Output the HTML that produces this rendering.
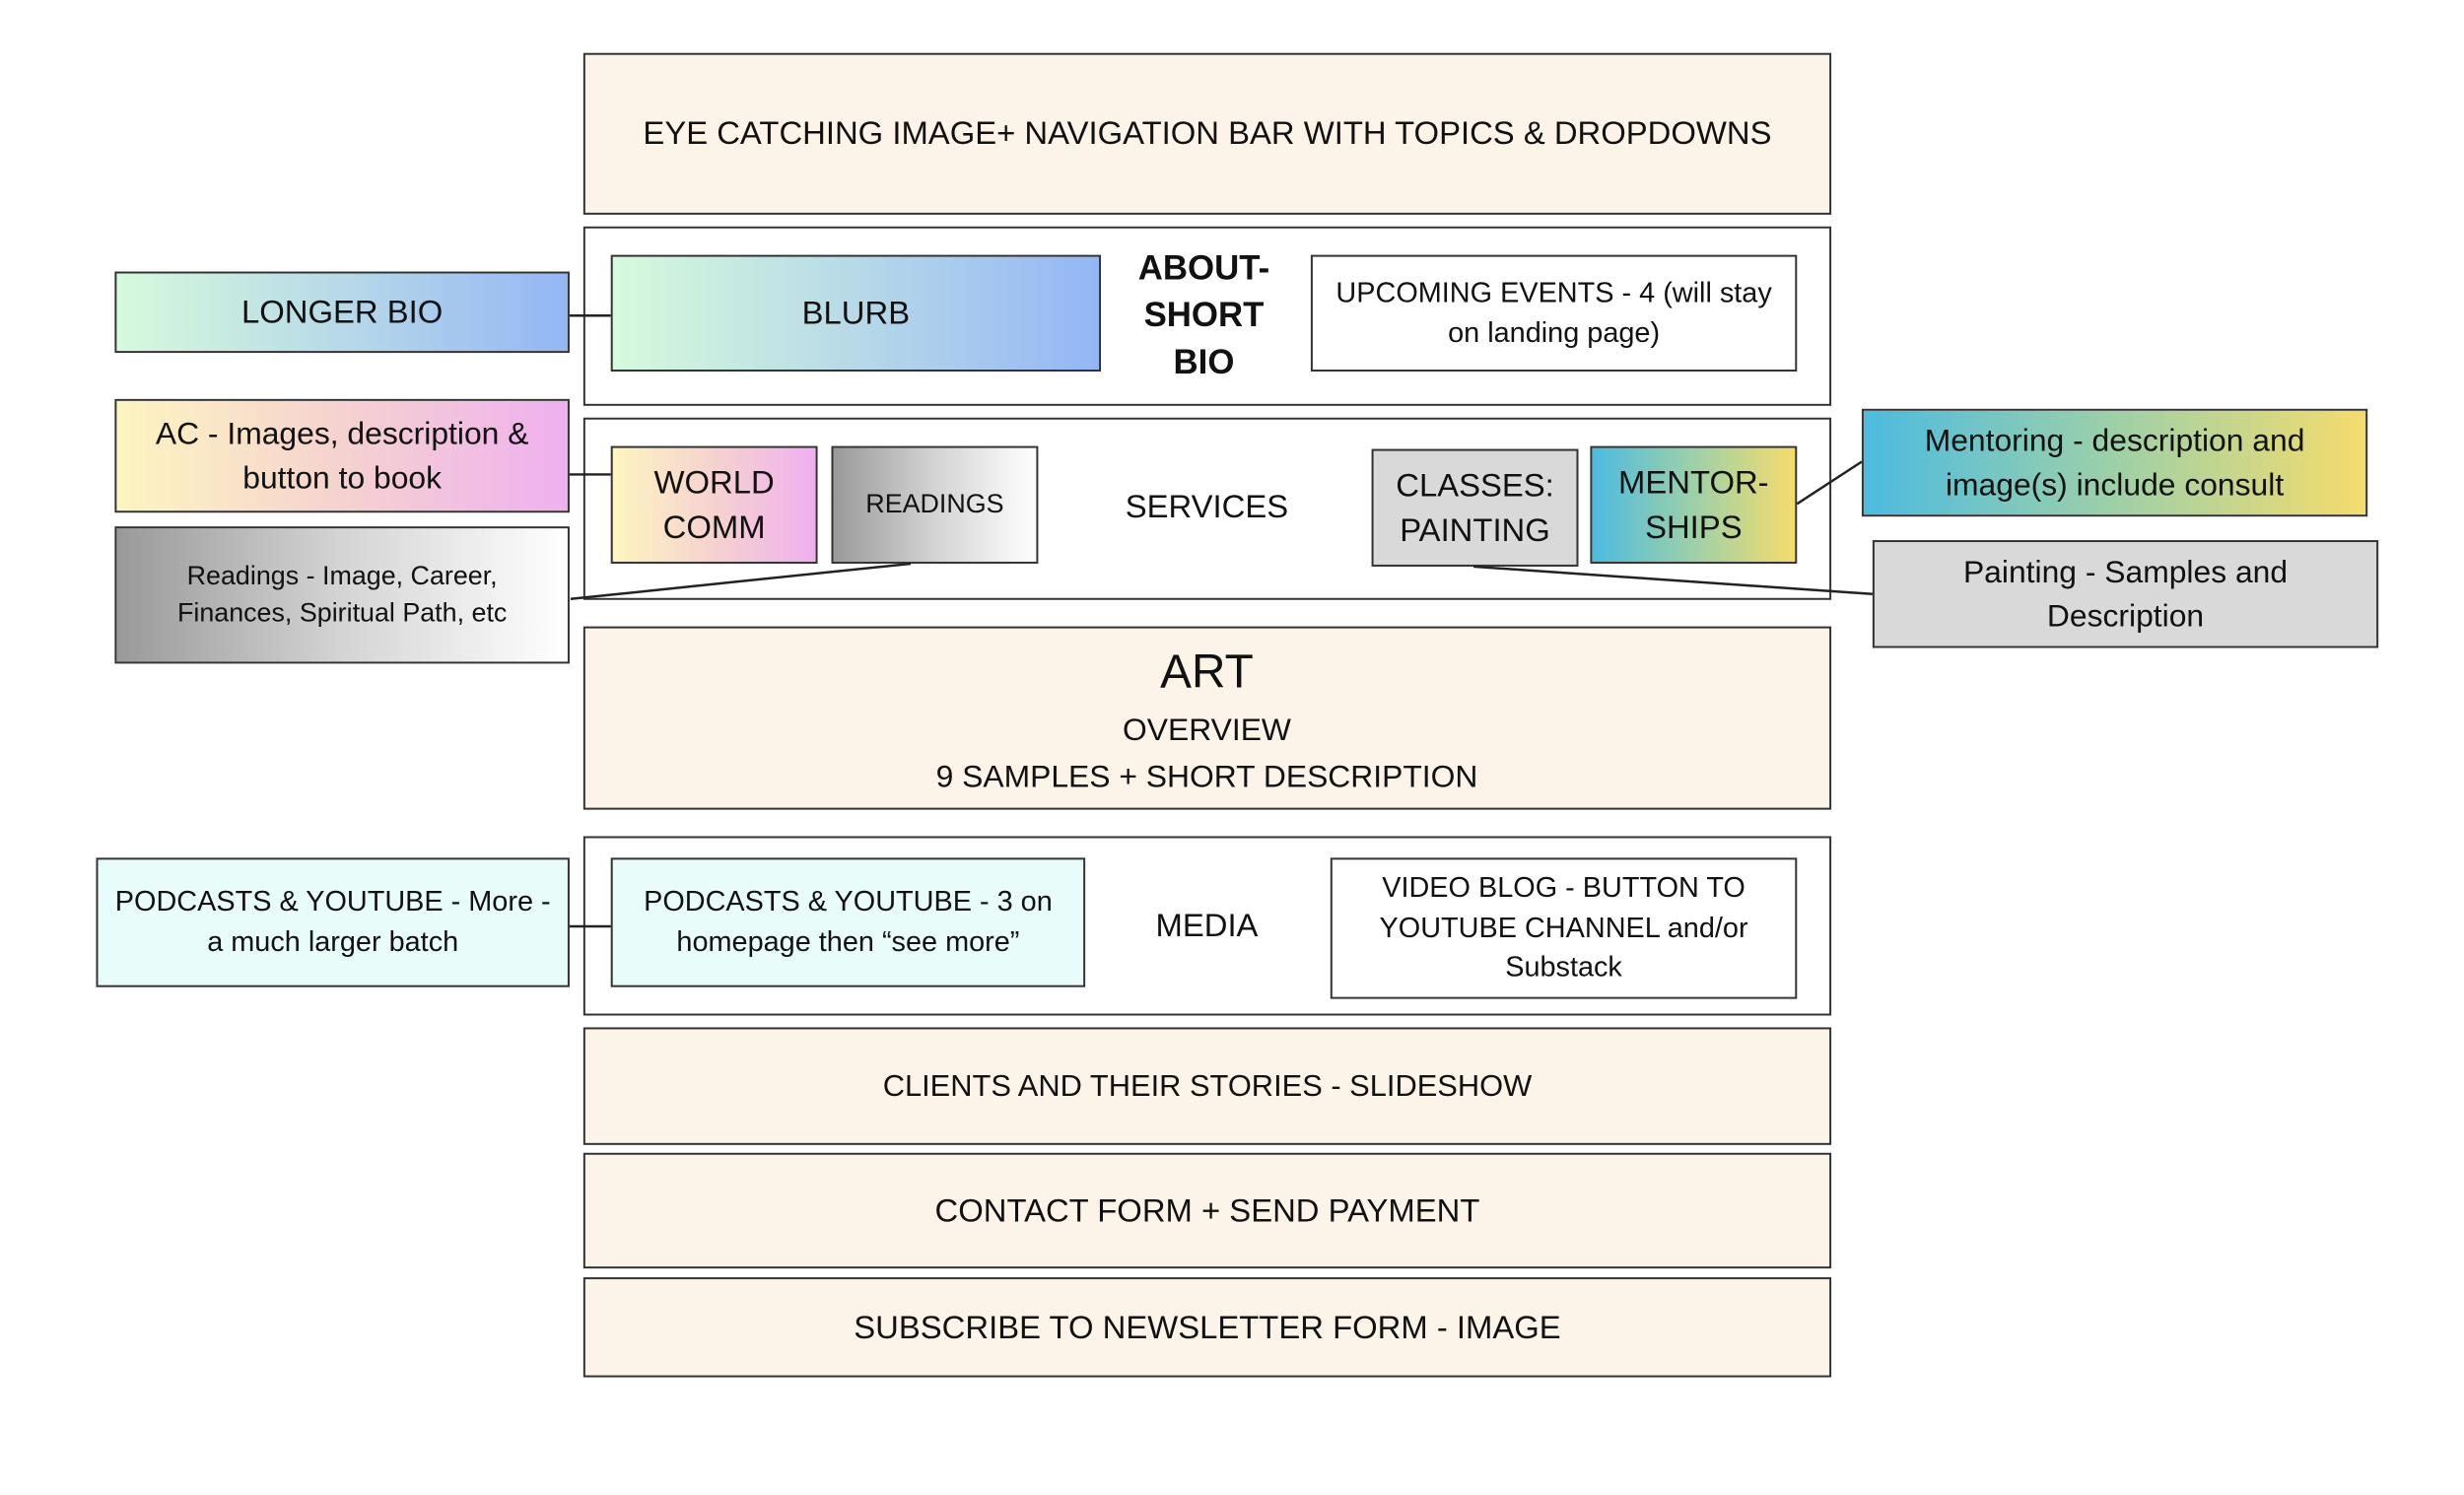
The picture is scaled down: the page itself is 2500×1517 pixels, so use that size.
<!DOCTYPE html>
<html><head><meta charset="utf-8"><style>
body{margin:0;width:2500px;height:1517px;background:#fff;position:relative;overflow:hidden;font-family:"Liberation Sans",sans-serif;color:#111}
#w{position:absolute;left:0;top:0;width:2500px;height:1517px;transform:scale(0.9947);transform-origin:0 0}
.b{position:absolute;box-sizing:border-box;border:2px solid #333;display:flex;align-items:center;justify-content:center;text-align:center;font-size:30px;line-height:1.4}
.p{background:#fdf4e9}
.t{position:absolute;text-align:center;transform:translateX(-50%);white-space:nowrap}
svg{position:absolute;left:0;top:0}
</style></head><body><div id="w">
<div class="b p" style="left:595px;top:54px;width:1273px;height:165px;font-size:33px">EYE CATCHING IMAGE+ NAVIGATION BAR WITH TOPICS &amp; DROPDOWNS</div>

<div class="b" style="left:595px;top:231px;width:1273px;height:183px"></div>
<div class="b" style="left:117px;top:277px;width:464px;height:83px;background:linear-gradient(90deg,#d6fadc,#b7d9e8,#94b6f5);font-size:33px">LONGER BIO</div>
<div class="b" style="left:623px;top:260px;width:500px;height:119px;background:linear-gradient(90deg,#d6fadc,#b7d9e8,#94b6f5);font-size:33px">BLURB</div>
<div class="t" style="left:1228px;top:250px;font-size:35px;font-weight:bold;line-height:48px">ABOUT-<br>SHORT<br>BIO</div>
<div class="b" style="left:1337px;top:260px;width:496px;height:119px;font-size:29px;background:#fff">UPCOMING EVENTS - 4 (will stay<br>on landing page)</div>

<div class="b" style="left:595px;top:426px;width:1273px;height:186px"></div>
<div class="b" style="left:117px;top:407px;width:464px;height:116px;background:linear-gradient(90deg,#fdf5c0,#f5d2d0,#efb0f0);font-size:32px">AC - Images, description &amp;<br>button to book</div>
<div class="b" style="left:117px;top:537px;width:464px;height:140px;background:linear-gradient(90deg,#999,#d4d4d4,#fff);font-size:27px">Readings - Image, Career,<br>Finances, Spiritual Path, etc</div>
<div class="b" style="left:623px;top:455px;width:211px;height:120px;background:linear-gradient(90deg,#fdf5c0,#f5d2d0,#efb0f0);font-size:33px">WORLD<br>COMM</div>
<div class="b" style="left:848px;top:455px;width:211px;height:120px;background:linear-gradient(90deg,#999,#d4d4d4,#fff);font-size:27px">READINGS</div>
<div class="t" style="left:1231px;top:498px;font-size:33px">SERVICES</div>
<div class="b" style="left:1399px;top:458px;width:211px;height:120px;background:#d9d9d9;font-size:33px">CLASSES:<br>PAINTING</div>
<div class="b" style="left:1622px;top:455px;width:211px;height:120px;background:linear-gradient(90deg,#4cbbe0,#9ed0a8,#f5dc6c);font-size:33px">MENTOR-<br>SHIPS</div>
<div class="b" style="left:1899px;top:417px;width:516px;height:110px;background:linear-gradient(90deg,#4cbbe0,#9ed0a8,#f5dc6c);font-size:32px">Mentoring - description and<br>image(s) include consult</div>
<div class="b" style="left:1910px;top:551px;width:516px;height:110px;background:#d9d9d9;font-size:32px">Painting - Samples and<br>Description</div>

<div class="b p" style="left:595px;top:639px;width:1273px;height:187px"></div>
<div class="t" style="left:1231px;top:658px;font-size:48px">ART</div>
<div class="t" style="left:1231px;top:726px;font-size:32px">OVERVIEW</div>
<div class="t" style="left:1231px;top:774px;font-size:32px">9 SAMPLES + SHORT DESCRIPTION</div>

<div class="b" style="left:595px;top:853px;width:1273px;height:183px"></div>
<div class="b" style="left:98px;top:875px;width:483px;height:132px;background:#e8fcfa;font-size:29px">PODCASTS &amp; YOUTUBE - More -<br>a much larger batch</div>
<div class="b" style="left:623px;top:875px;width:484px;height:132px;background:#e8fcfa;font-size:29px">PODCASTS &amp; YOUTUBE - 3 on<br>homepage then “see more”</div>
<div class="t" style="left:1231px;top:925px;font-size:33px">MEDIA</div>
<div class="b" style="left:1357px;top:875px;width:476px;height:144px;background:#fff;font-size:29px">VIDEO BLOG - BUTTON TO<br>YOUTUBE CHANNEL and/or<br>Substack</div>

<div class="b p" style="left:595px;top:1048px;width:1273px;height:120px;font-size:31px">CLIENTS AND THEIR STORIES - SLIDESHOW</div>
<div class="b p" style="left:595px;top:1176px;width:1273px;height:118px;font-size:33px">CONTACT FORM + SEND PAYMENT</div>
<div class="b p" style="left:595px;top:1303px;width:1273px;height:102px;font-size:33px">SUBSCRIBE TO NEWSLETTER FORM - IMAGE</div>

<svg width="2500" height="1517">
<g stroke="#222" stroke-width="2.5" fill="none">
<line x1="581" y1="322" x2="623" y2="322"/>
<line x1="581" y1="484" x2="623" y2="484"/>
<line x1="582" y1="611" x2="929" y2="575"/>
<line x1="1503" y1="578" x2="1910" y2="606"/>
<line x1="1833" y1="514" x2="1899" y2="471"/>
<line x1="581" y1="945" x2="623" y2="945"/>
</g></svg>
</div></body></html>
